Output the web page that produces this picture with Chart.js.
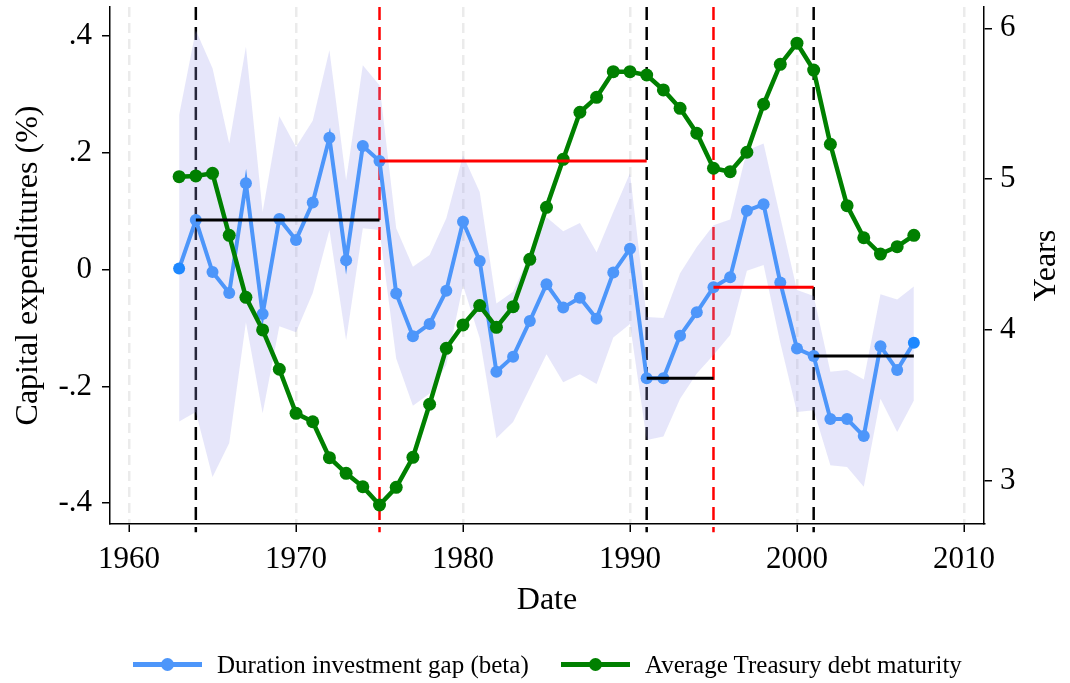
<!DOCTYPE html>
<html>
<head>
<meta charset="utf-8">
<title>Duration investment gap and Treasury debt maturity</title>
<script src="https://cdn.jsdelivr.net/npm/chart.js@4.4.1/dist/chart.umd.min.js"></script>
<style>
  body { margin: 0; background: #fff; }
  #wrap { position: relative; width: 1070px; height: 683px; }
  #legend { position: absolute; left: 0; top: 0; width: 1070px; height: 683px; pointer-events: none;
            font-family: "Liberation Serif", "Times New Roman", serif; font-size: 25px; color: #000; }
  .swatch { position: absolute; height: 5px; width: 69px; top: 662px; }
  .dot { position: absolute; width: 13px; height: 13px; border-radius: 50%; top: 658px; }
  .label { position: absolute; top: 650px; line-height: 30px; white-space: nowrap; }
</style>
</head>
<body>
<div id="wrap">
  <canvas id="myChart" width="1070" height="683"></canvas>
  <div id="legend">
    <div class="swatch" style="left:133px;background:#4d96fa"></div>
    <div class="dot" style="left:161px;background:#4d96fa"></div>
    <div class="label" style="left:217px">Duration investment gap (beta)</div>
    <div class="swatch" style="left:561px;background:#008000"></div>
    <div class="dot" style="left:589px;background:#008000"></div>
    <div class="label" style="left:645px">Average Treasury debt maturity</div>
  </div>
</div>
<script>
// datos
const years = [1963, 1964, 1965, 1966, 1967, 1968, 1969, 1970, 1971, 1972, 1973, 1974, 1975,
  1976, 1977, 1978, 1979, 1980, 1981, 1982, 1983, 1984, 1985, 1986, 1987, 1988, 1989, 1990,
  1991, 1992, 1993, 1994, 1995, 1996, 1997, 1998, 1999, 2000, 2001, 2002, 2003, 2004, 2005, 2006, 2007];

const durationGap = [0.002, 0.085, -0.004, -0.040, 0.148, -0.076, 0.087, 0.051, 0.115, 0.226, 0.016, 0.212, 0.186,
  -0.041, -0.114, -0.093, -0.036, 0.082, 0.015, -0.175, -0.149, -0.088, -0.025, -0.065, -0.048, -0.084, -0.005, 0.036,
  -0.186, -0.186, -0.113, -0.073, -0.030, -0.013, 0.101, 0.112, -0.022, -0.135, -0.148, -0.256, -0.256, -0.285, -0.131, -0.172, -0.125];

const gapUpper = [0.265, 0.410, 0.345, 0.216, 0.382, 0.099, 0.263, 0.210, 0.255, 0.376, 0.153, 0.350, 0.316,
  0.071, 0.005, 0.025, 0.088, 0.196, 0.133, -0.058, -0.038, 0.026, 0.090, 0.066, 0.080, 0.030, 0.099, 0.165,
  -0.081, -0.083, -0.006, 0.039, 0.076, 0.086, 0.204, 0.216, 0.090, -0.035, -0.045, -0.175, -0.172, -0.188, -0.042, -0.051, -0.029];

const gapLower = [-0.260, -0.244, -0.355, -0.297, -0.090, -0.246, -0.097, -0.107, -0.040, 0.068, -0.121, 0.071, 0.068,
  -0.152, -0.233, -0.212, -0.163, -0.027, -0.117, -0.289, -0.261, -0.203, -0.145, -0.193, -0.179, -0.196, -0.116, -0.093,
  -0.292, -0.286, -0.221, -0.178, -0.146, -0.112, -0.002, 0.008, -0.125, -0.244, -0.241, -0.335, -0.338, -0.372, -0.221, -0.278, -0.224];

const debtMaturity = [5.016, 5.021, 5.038, 4.627, 4.216, 4.000, 3.739, 3.447, 3.391, 3.153, 3.049, 2.960, 2.839,
  2.956, 3.155, 3.507, 3.878, 4.033, 4.161, 4.017, 4.154, 4.468, 4.813, 5.131, 5.443, 5.542, 5.712, 5.712,
  5.690, 5.591, 5.469, 5.304, 5.072, 5.049, 5.178, 5.496, 5.761, 5.901, 5.723, 5.231, 4.824, 4.611, 4.503, 4.552, 4.627];

// fechas marcadas con lineas verticales
const blackEvents = [1964, 1991, 2001];
const redEvents = [1975, 1995];

const xTicks = [1960, 1970, 1980, 1990, 2000, 2010];
const leftTicks = [-0.4, -0.2, 0, 0.2, 0.4];
const leftTickLabels = ["-.4", "-.2", "0", ".2", ".4"];
const rightTicks = [3, 4, 5, 6];

const serif = '"Liberation Serif", "Times New Roman", serif';
const BLUE = "#4d96fa";
const BLUE_DARK = "#1e88ff";
const GREEN = "#008000";

function pts(ys) {
  return years.map((x, i) => ({ x: x, y: ys[i] }));
}

// lineas verticales punteadas
const events = blackEvents.concat(redEvents).sort((a, b) => a - b);
const eventColor = (yr) => redEvents.includes(yr) ? "#ff0000" : "#000000";

const markerSets = events.map(function(yr) {
  return {
    data: [{ x: yr, y: 0.45 }, { x: yr, y: -0.45 }],
    borderColor: eventColor(yr),
    borderWidth: 2.5,
    borderDash: [13, 7],
    pointRadius: 0,
    clip: false,
    yAxisID: "y",
    order: 40
  };
});

// tramos horizontales: valor del año inicial hasta el siguiente evento
const segmentSets = events.map(function(start, i) {
  const end = i + 1 < events.length ? events[i + 1] : years[years.length - 1];
  const level = durationGap[years.indexOf(start)];
  return {
    data: [{ x: start, y: level }, { x: end, y: level }],
    borderColor: eventColor(start),
    borderWidth: 3,
    pointRadius: 0,
    yAxisID: "y",
    order: 1
  };
});

const datasets = [
  {
    label: "upper",
    data: pts(gapUpper),
    borderWidth: 0,
    pointRadius: 0,
    fill: false,
    yAxisID: "y",
    order: 30
  },
  {
    label: "lower",
    data: pts(gapLower),
    borderWidth: 0,
    pointRadius: 0,
    fill: "-1",
    backgroundColor: "rgba(155, 155, 235, 0.25)",
    yAxisID: "y",
    order: 30
  },
  {
    label: "Duration investment gap (beta)",
    data: pts(durationGap),
    borderColor: BLUE,
    borderWidth: 4,
    pointRadius: 6,
    pointBackgroundColor: (c) => (c.dataIndex === 0 || c.dataIndex === years.length - 1) ? BLUE_DARK : BLUE,
    pointBorderColor: (c) => (c.dataIndex === 0 || c.dataIndex === years.length - 1) ? BLUE_DARK : BLUE,
    pointBorderWidth: 0,
    yAxisID: "y",
    order: 20
  },
  {
    label: "Average Treasury debt maturity",
    data: pts(debtMaturity),
    borderColor: GREEN,
    borderWidth: 4.5,
    pointRadius: 6.5,
    pointBackgroundColor: GREEN,
    pointBorderColor: GREEN,
    pointBorderWidth: 0,
    yAxisID: "y2",
    order: 10
  }
].concat(markerSets, segmentSets);

// titulo del eje derecho, leido de abajo hacia arriba
const rightTitle = {
  id: "rightTitle",
  afterDraw(chart) {
    const ctx = chart.ctx;
    const area = chart.chartArea;
    ctx.save();
    ctx.translate(1047, (area.top + area.bottom) / 2);
    ctx.rotate(-Math.PI / 2);
    ctx.font = "32px " + serif;
    ctx.fillStyle = "#000";
    ctx.textAlign = "center";
    ctx.textBaseline = "middle";
    ctx.fillText("Years", 0, 0);
    ctx.restore();
  }
};

function noPad(s) {
  s.paddingTop = 0;
  s.paddingBottom = 0;
  s.paddingLeft = 0;
  s.paddingRight = 0;
}

const config = {
  type: "line",
  data: { datasets: datasets },
  plugins: [rightTitle],
  options: {
    responsive: false,
    animation: false,
    devicePixelRatio: 1,
    layout: { padding: { top: 7, left: 0, right: 0, bottom: 0 } },
    elements: { line: { tension: 0 } },
    plugins: {
      legend: { display: false },
      tooltip: { enabled: false }
    },
    scales: {
      x: {
        type: "linear",
        position: "bottom",
        min: 1958.86,
        max: 2011.2,
        afterBuildTicks: (s) => { s.ticks = xTicks.map((v) => ({ value: v })); },
        afterFit: (s) => { s.height = 159; noPad(s); },
        ticks: {
          autoSkip: false,
          maxRotation: 0,
          padding: 9,
          color: "#000",
          font: { family: serif, size: 31 },
          callback: (v) => String(v)
        },
        grid: { color: "#ebebeb", lineWidth: 2.5, tickColor: "#000", tickWidth: 1.5, tickLength: 8 },
        border: { color: "#000", width: 1.5, dash: [10, 6] },
        title: {
          display: true,
          text: "Date",
          color: "#000",
          font: { family: serif, size: 32 },
          padding: { top: 0, bottom: 63 }
        }
      },
      y: {
        type: "linear",
        position: "left",
        min: -0.4357,
        max: 0.45,
        afterBuildTicks: (s) => { s.ticks = leftTicks.map((v) => ({ value: v })); },
        afterFit: (s) => { s.width = 110; noPad(s); },
        ticks: {
          padding: 10,
          color: "#000",
          font: { family: serif, size: 31 },
          callback: (v, i) => leftTickLabels[i]
        },
        grid: { drawOnChartArea: false, color: "#000", lineWidth: 1.5, tickLength: 8 },
        border: { color: "#000", width: 1.5 },
        title: {
          display: true,
          text: "Capital expenditures (%)",
          color: "#000",
          font: { family: serif, size: 32 },
          padding: { top: 9, bottom: 0 }
        }
      },
      y2: {
        type: "linear",
        position: "right",
        min: 2.713,
        max: 6.141,
        afterBuildTicks: (s) => { s.ticks = rightTicks.map((v) => ({ value: v })); },
        afterFit: (s) => { s.width = 86; noPad(s); },
        ticks: {
          padding: 8,
          color: "#000",
          font: { family: serif, size: 31 },
          callback: (v) => String(v)
        },
        grid: { drawOnChartArea: false, color: "#000", lineWidth: 1.5, tickLength: 8 },
        border: { color: "#000", width: 1.5 },
        title: { display: false }
      }
    }
  }
};

// Crear el grafico
var myChart = new Chart(document.getElementById("myChart"), config);
</script>
</body>
</html>
